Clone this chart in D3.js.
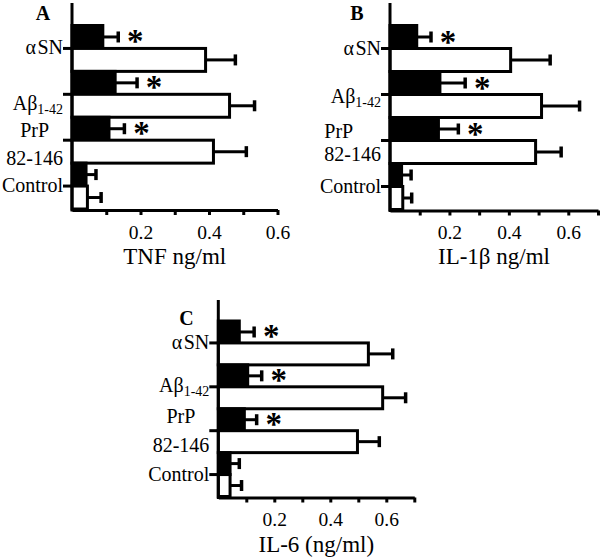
<!DOCTYPE html>
<html>
<head>
<meta charset="utf-8">
<title>Cytokine release</title>
<script src="https://d3js.org/d3.v7.min.js"></script>
<style>
  body { margin: 0; background: #fff; }
  svg { display: block; font-family: "Liberation Serif", "Times New Roman", serif; }
</style>
</head>
<body>
<div id="chart"></div>
<script>
// categories top to bottom, each has a filled (black) and an open (white) bar
var categories = ["aSN", "Ab", "PrP", "Control"];
var significant = [true, true, true, false];   // asterisk on the filled bar

var tnfFilled    = [0.090, 0.126, 0.108, 0.041];
var tnfFilledErr = [0.045, 0.064, 0.045, 0.029];
var tnfOpen      = [0.390, 0.460, 0.413, 0.045];
var tnfOpenErr   = [0.087, 0.073, 0.096, 0.040];

var il1Filled    = [0.090, 0.168, 0.163, 0.039];
var il1FilledErr = [0.048, 0.085, 0.067, 0.032];
var il1Open      = [0.406, 0.510, 0.490, 0.043];
var il1OpenErr   = [0.133, 0.128, 0.086, 0.030];

var il6Filled    = [0.075, 0.105, 0.093, 0.042];
var il6FilledErr = [0.053, 0.050, 0.044, 0.033];
var il6Open      = [0.536, 0.587, 0.497, 0.042];
var il6OpenErr   = [0.087, 0.082, 0.078, 0.041];

var tnfTicks = [0.1, 0.2, 0.3, 0.4, 0.5, 0.6];
var ilTicks = [0.1, 0.2, 0.3, 0.4, 0.5, 0.6, 0.7];
var labelledTicks = [0.2, 0.4, 0.6];

var panels = [
  {letter: "A", title: "TNF ng/ml", filled: tnfFilled, filledErr: tnfFilledErr, open: tnfOpen, openErr: tnfOpenErr,
   ticks: tnfTicks, xMax: 0.6, left: 72, right: 277.5, axisTop: 3, barTop: 25.5, bottom: 210,
   letterX: 43, letterY: 20, tickY: 28.5, titleY: 264, abDy: 16, prpDy1: -3, prpDy2: 25, prpAlign: "middle"},
  {letter: "B", title: "IL-1\u03b2 ng/ml", filled: il1Filled, filledErr: il1FilledErr, open: il1Open, openErr: il1OpenErr,
   ticks: ilTicks, xMax: 0.7, left: 390, right: 598, axisTop: 3, barTop: 25.5, bottom: 210.5,
   letterX: 357, letterY: 20, tickY: 28.5, titleY: 264, abDy: 8, prpDy1: -3, prpDy2: 20, prpAlign: "start"},
  {letter: "C", title: "IL-6 (ng/ml)", filled: il6Filled, filledErr: il6FilledErr, open: il6Open, openErr: il6OpenErr,
   ticks: ilTicks, xMax: 0.7, left: 218.3, right: 414.3, axisTop: 300, barTop: 321, bottom: 497.5,
   letterX: 186.5, letterY: 325, tickY: 28, titleY: 552, abDy: 5, prpDy1: -8, prpDy2: 21, prpAlign: "middle"}
];

var svg = d3.select("#chart").append("svg").attr("width", 600).attr("height", 557);

function drawPanel(p) {
  var g = svg.append("g");
  var x = d3.scaleLinear().domain([0, p.xMax]).range([p.left, p.right]);
  var y = d3.scaleBand().domain(categories).range([p.barTop, p.bottom - 1]);
  var sub = d3.scaleBand().domain(["filled", "open"]).range([0, y.bandwidth()]);

  var rows = [];
  categories.forEach(function(c, i) {
    rows.push({cat: c, kind: "filled", v: p.filled[i], e: p.filledErr[i], sig: significant[i]});
    rows.push({cat: c, kind: "open", v: p.open[i], e: p.openErr[i], sig: false});
  });
  function cy(d) { return y(d.cat) + sub(d.kind) + sub.bandwidth() / 2; }

  // error bars first so bars cover their start
  g.selectAll(".err").data(rows).enter().append("line")
    .attr("x1", function(d) { return x(d.v); })
    .attr("x2", function(d) { return x(d.v + d.e); })
    .attr("y1", cy).attr("y2", cy)
    .attr("stroke", "#000").attr("stroke-width", 3);
  g.selectAll(".cap").data(rows).enter().append("line")
    .attr("x1", function(d) { return x(d.v + d.e); })
    .attr("x2", function(d) { return x(d.v + d.e); })
    .attr("y1", function(d) { return cy(d) - 5.5; })
    .attr("y2", function(d) { return cy(d) + 5.5; })
    .attr("stroke", "#000").attr("stroke-width", 3.5);

  g.selectAll(".bar").data(rows).enter().append("rect")
    .attr("x", x(0))
    .attr("y", function(d) { return y(d.cat) + sub(d.kind); })
    .attr("width", function(d) { return x(d.v) - x(0); })
    .attr("height", sub.bandwidth())
    .attr("fill", function(d) { return d.kind === "filled" ? "#000" : "#fff"; })
    .attr("stroke", "#000").attr("stroke-width", 3);

  g.selectAll(".star").data(rows.filter(function(d) { return d.sig; })).enter().append("text")
    .attr("x", function(d) { return x(d.v + d.e) + 17; })
    .attr("y", function(d) { return cy(d) + 15.5; })
    .attr("text-anchor", "middle")
    .attr("font-weight", "bold").attr("font-size", 33)
    .text("*");

  // x axis
  var xAxis = g.append("g").attr("transform", "translate(0," + p.bottom + ")")
    .call(d3.axisBottom(x).tickValues(p.ticks).tickSize(5).tickSizeOuter(0)
      .tickFormat(function(d) { return labelledTicks.indexOf(d) >= 0 ? d3.format(".1f")(d) : ""; }));
  xAxis.attr("font-family", null).attr("font-size", null);
  xAxis.select(".domain").attr("stroke-width", 3);
  xAxis.selectAll(".tick line").attr("stroke-width", 3);
  xAxis.selectAll(".tick text").attr("y", p.tickY).attr("dy", null)
    .attr("font-size", 19.5).attr("fill", "#000");

  // y axis
  g.append("line").attr("x1", p.left).attr("x2", p.left)
    .attr("y1", p.axisTop).attr("y2", p.bottom + 1.5)
    .attr("stroke", "#000").attr("stroke-width", 3);
  var yAxis = g.append("g").attr("transform", "translate(" + p.left + ",0)")
    .call(d3.axisLeft(y).tickSize(9).tickFormat(""));
  yAxis.select(".domain").remove();
  yAxis.selectAll(".tick line").attr("stroke-width", 3);

  // category labels
  var lx = p.left - 9;
  function tickY(c) { return y(c) + y.bandwidth() / 2; }
  var lab = g.append("g").attr("font-size", 20).attr("fill", "#000");

  var t1 = lab.append("text").attr("x", lx).attr("y", tickY("aSN") + 6).attr("text-anchor", "end");
  t1.append("tspan").text("\u03b1");
  t1.append("tspan").attr("dx", 1.5).text("SN");

  var t2 = lab.append("text").attr("x", lx).attr("y", tickY("Ab") + p.abDy).attr("text-anchor", "end");
  t2.append("tspan").text("A\u03b2");
  t2.append("tspan").attr("font-size", 14).attr("dy", 4).text("1-42");

  var t3b = lab.append("text").attr("x", lx).attr("y", tickY("PrP") + p.prpDy2)
    .attr("text-anchor", "end").text("82-146");
  var w = t3b.node().getComputedTextLength();
  lab.append("text")
    .attr("x", p.prpAlign === "middle" ? lx - w / 2 : lx - w)
    .attr("y", tickY("PrP") + p.prpDy1)
    .attr("text-anchor", p.prpAlign).text("PrP");

  lab.append("text").attr("x", lx).attr("y", tickY("Control") + 6)
    .attr("text-anchor", "end").text("Control");

  // panel letter and axis title
  g.append("text").attr("x", p.letterX).attr("y", p.letterY).attr("text-anchor", "middle")
    .attr("font-size", 20).attr("font-weight", "bold").text(p.letter);
  g.append("text").attr("x", (p.left + p.right) / 2).attr("y", p.titleY).attr("text-anchor", "middle")
    .attr("font-size", 23).text(p.title);
}

panels.forEach(drawPanel);
</script>
</body>
</html>
